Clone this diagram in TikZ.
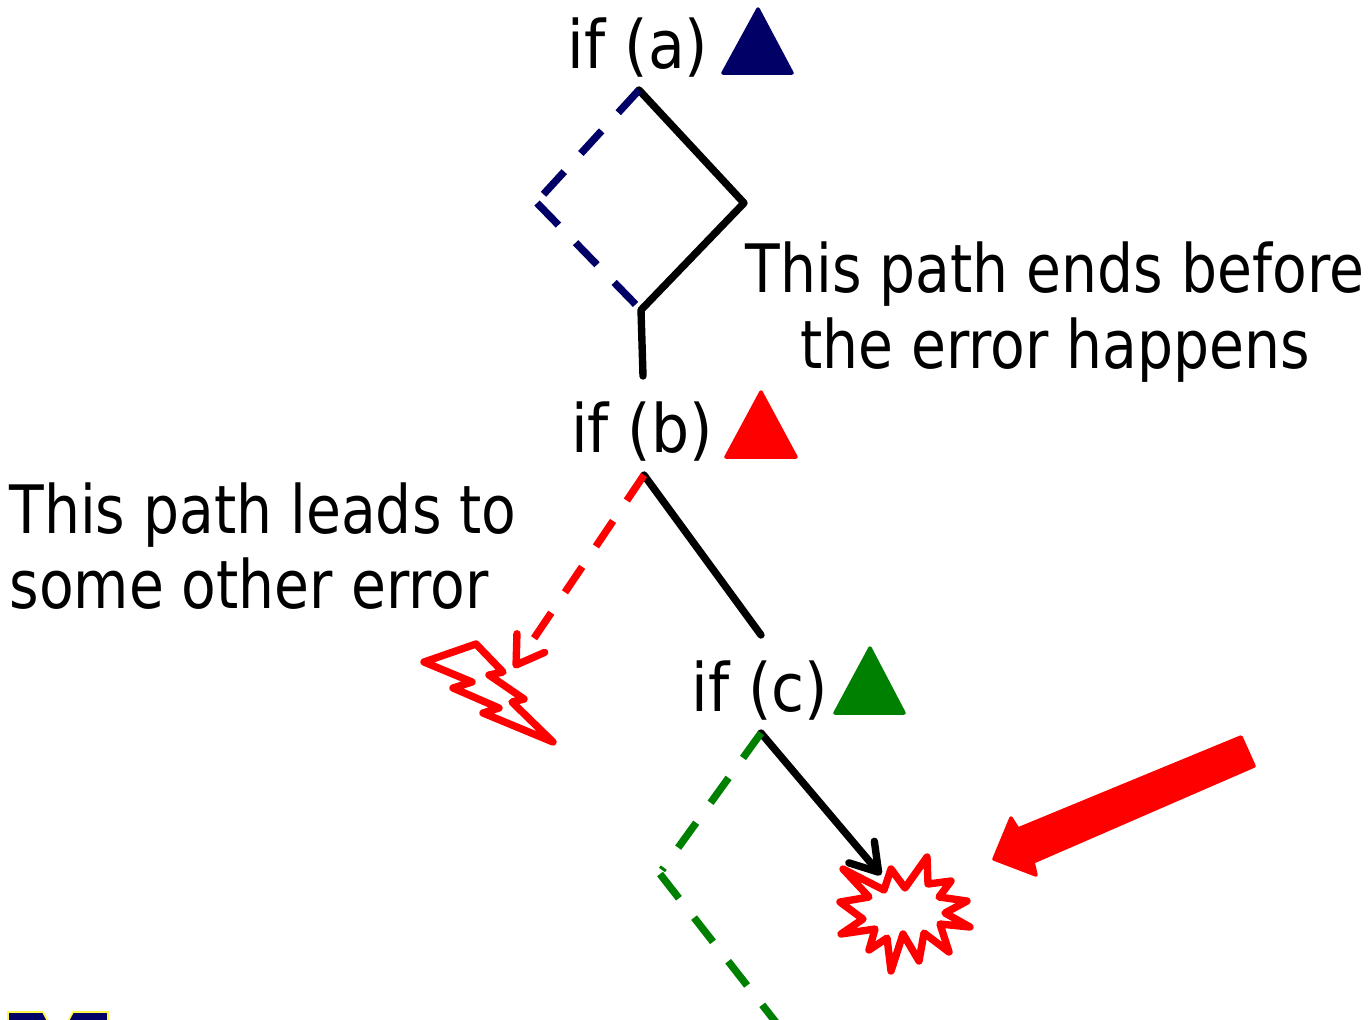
\documentclass[tikz,border=0pt]{standalone}
\usepackage{fontspec}
\setmainfont{DejaVu Sans}[FakeStretch=0.9]
\newfontfamily\notefont{DejaVu Sans}[FakeStretch=0.85]
\usetikzlibrary{arrows.meta}
\definecolor{navyblue}{RGB}{0,0,102}
\definecolor{darkgreen}{RGB}{0,128,0}
\tikzset{
  txt/.style={inner sep=0pt, font=\fontsize{38}{43}\selectfont, align=center},
  note/.style={inner sep=0pt, font=\fontsize{38}{43}\selectfont\notefont},
  pathline/.style={line width=4.2pt, line cap=round, line join=round},
  dashline/.style={pathline, line cap=butt, dash pattern=on 17.5pt off 14pt},
  tri/.style={line width=2pt, line join=round},
  barb/.style={-{Straight Barb[length=15pt, width=19pt, line width=4.2pt, round]}}
}
\begin{document}
\begin{tikzpicture}[x=0.02cm, y=-0.02cm]
  \useasboundingbox (0,0) rectangle (1369,1019);
  \node[txt] (ifa) at (638,48) {if (a)};
  \node[txt] (ifb) at (642,432) {if (b)};
  \node[txt] (ifc) at (760,691) {if (c)};
  \node[note, align=center] (endnote) at (1055,312) {This path ends before\\the error happens};
  \node[note, align=left] (othernote) at (263,546) {This path leads to\\some other error};
  \coordinate (atop) at (639,90);
  \coordinate (aleft) at (541,197);
  \coordinate (aleftb) at (537,203);
  \coordinate (aright) at (744,203);
  \coordinate (ajoin) at (641,310);
  \coordinate (bin) at (643,376);
  \coordinate (btop) at (644,475);
  \coordinate (cin) at (761,635);
  \coordinate (ctop) at (761,733);
  \coordinate (cleft) at (662,870);
  \coordinate (cleftb) at (660,874);
  \coordinate (cend) at (778,1025);
  \coordinate (bolttip) at (514,668);
  \coordinate (startip) at (881,875);
  % triangles
  \fill[tri, draw=navyblue, fill=navyblue] (758,9) -- (792,73) -- (723,73) -- cycle;
  \fill[tri, draw=red, fill=red] (761,392) -- (796,457) -- (726,457) -- cycle;
  \fill[tri, draw=darkgreen, fill=darkgreen] (870,648) -- (904,713) -- (835,713) -- cycle;
  % paths
  \draw[pathline] (atop) -- (aright) -- (ajoin) -- (bin);
  \draw[dashline, navyblue] (atop) -- (aleft);
  \draw[dashline, navyblue] (aleftb) -- (ajoin);
  \draw[pathline] (btop) -- (cin);
  \draw[dashline, red, barb] (btop) -- (bolttip);
  \draw[pathline, barb] (ctop) -- (startip);
  \draw[dashline, darkgreen] (ctop) -- (cleft);
  \draw[dashline, darkgreen] (cleftb) -- (cend);
  % bolt and star
  \draw[pathline, red] (424,662) -- (476,644) -- (503,672) -- (489,675) -- (524,699) -- (512,702)
    -- (553,742) -- (483,713) -- (499,708) -- (453,688) -- (472,682) -- cycle;
  \draw[pathline, red] (843,869) -- (884,890) -- (891,869) -- (905,888) -- (927,857) -- (928,884)
    -- (951,881) -- (939,897) -- (967,901) -- (945,913) -- (970,927) -- (940,924) -- (949,952)
    -- (924,933) -- (919,961) -- (903,934) -- (891,971) -- (887,938) -- (869,950) -- (875,929)
    -- (841,934) -- (863,919) -- (840,902) -- (869,897) -- cycle;
  % big arrow
  \fill[tri, draw=red, fill=red] (1241,737) -- (1254,766) -- (1033,862) -- (1036,875) -- (994,859)
    -- (1011,818) -- (1018,829) -- cycle;
  % corner of the logo
  \fill[navyblue, draw=yellow!70, line width=1pt] (8,1025) -- (8,1012) -- (43,1012) -- (50,1025) -- cycle;
  \fill[navyblue, draw=yellow!70, line width=1pt] (66,1025) -- (73,1012) -- (108,1012) -- (108,1025) -- cycle;
\end{tikzpicture}
\end{document}
